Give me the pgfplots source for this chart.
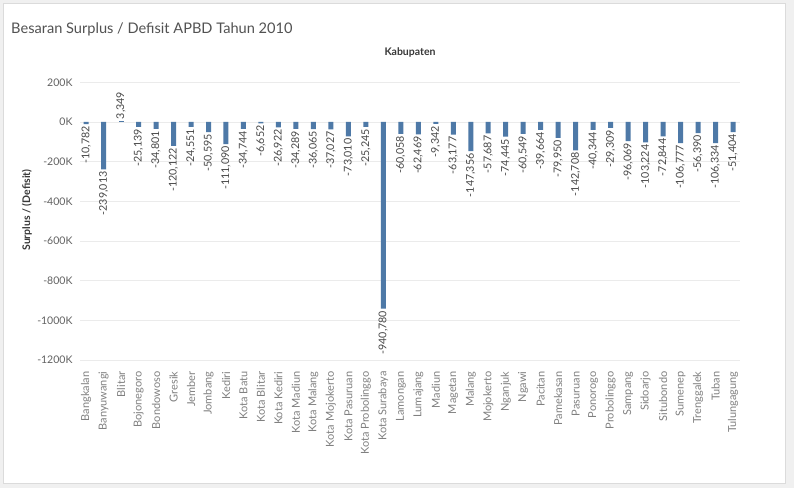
\documentclass[border=0pt]{standalone}
\usepackage{pgfplots}
\pgfplotsset{compat=1.18}
\usepackage{fontspec}
\setmainfont{Lato}
\definecolor{barblue}{HTML}{4E79A7}
\begin{document}
\begin{tikzpicture}
\fill[black!6] (0pt,0pt) rectangle (794pt,488pt);
\filldraw[fill=white, draw=black!14] (3pt,5pt) rectangle (785pt,485pt);
\node[anchor=base west, inner sep=0pt, font=\fontsize{14.6}{16}\selectfont, text=black!68] at (11pt,454pt) {Besaran Surplus / Defisit APBD Tahun 2010};
\node[font=\bfseries\fontsize{10.5}{12}\selectfont, text=black!78] at (410pt,436pt) {Kabupaten};
\node[rotate=90, font=\bfseries\fontsize{10.5}{12}\selectfont, text=black!78] at (27pt,278pt) {Surplus / (Defisit)};
\begin{axis}[
  at={(80pt,120pt)}, anchor=south west,
  scale only axis, width=660pt, height=300pt,
  ybar, bar width=5pt,
  xmin=-0.35, xmax=37.4, ymin=-1240000, ymax=272000,
  xtick={0,...,37},
  xticklabels={Bangkalan,Banyuwangi,Blitar,Bojonegoro,Bondowoso,Gresik,Jember,Jombang,Kediri,Kota Batu,Kota Blitar,Kota Kediri,Kota Madiun,Kota Malang,Kota Mojokerto,Kota Pasuruan,Kota Probolinggo,Kota Surabaya,Lamongan,Lumajang,Madiun,Magetan,Malang,Mojokerto,Nganjuk,Ngawi,Pacitan,Pamekasan,Pasuruan,Ponorogo,Probolinggo,Sampang,Sidoarjo,Situbondo,Sumenep,Trenggalek,Tuban,Tulungagung},
  ytick={-1200000,-1000000,-800000,-600000,-400000,-200000,0,200000},
  yticklabels={-1200K,-1000K,-800K,-600K,-400K,-200K,0K,200K},
  scaled y ticks=false,
  ymajorgrids, major grid style={draw=black!8, line width=0.8pt},
  axis line style={draw=none}, major tick length=0pt,
  xticklabel style={rotate=90, anchor=east, font=\fontsize{11}{12}\selectfont, text=black!50},
  yticklabel style={font=\fontsize{10.5}{12}\selectfont, text=black!62, xshift=-4pt},
  clip=false,
  nodes near coords={\pgfmathprintnumber[fixed,precision=0,1000 sep={,},assume math mode=true]{\pgfplotspointmeta}},
  nodes near coords style={font=\fontsize{10.7}{12}\selectfont, text=black!72, rotate=90, inner sep=2pt},
]
\addplot[fill=barblue, draw=none, bar shift=0pt, nodes near coords align=east] coordinates {
(0,-10782) (1,-239013) (3,-25139) (4,-34801) (5,-120122) (6,-24551) (7,-50595) (8,-111090)
(9,-34744) (10,-6652) (11,-26922) (12,-34289) (13,-36065) (14,-37027) (15,-73010) (16,-25245)
(17,-940780) (18,-60058) (19,-62469) (20,-9342) (21,-63177) (22,-147356) (23,-57687) (24,-74445)
(25,-60549) (26,-39664) (27,-79950) (28,-142708) (29,-40344) (30,-29309) (31,-96069) (32,-103224)
(33,-72844) (34,-106777) (35,-56390) (36,-106334) (37,-51404)
};
\addplot[fill=barblue, draw=none, bar shift=0pt, nodes near coords align=west] coordinates {
(2,3349)
};
\end{axis}
\end{tikzpicture}
\end{document}
